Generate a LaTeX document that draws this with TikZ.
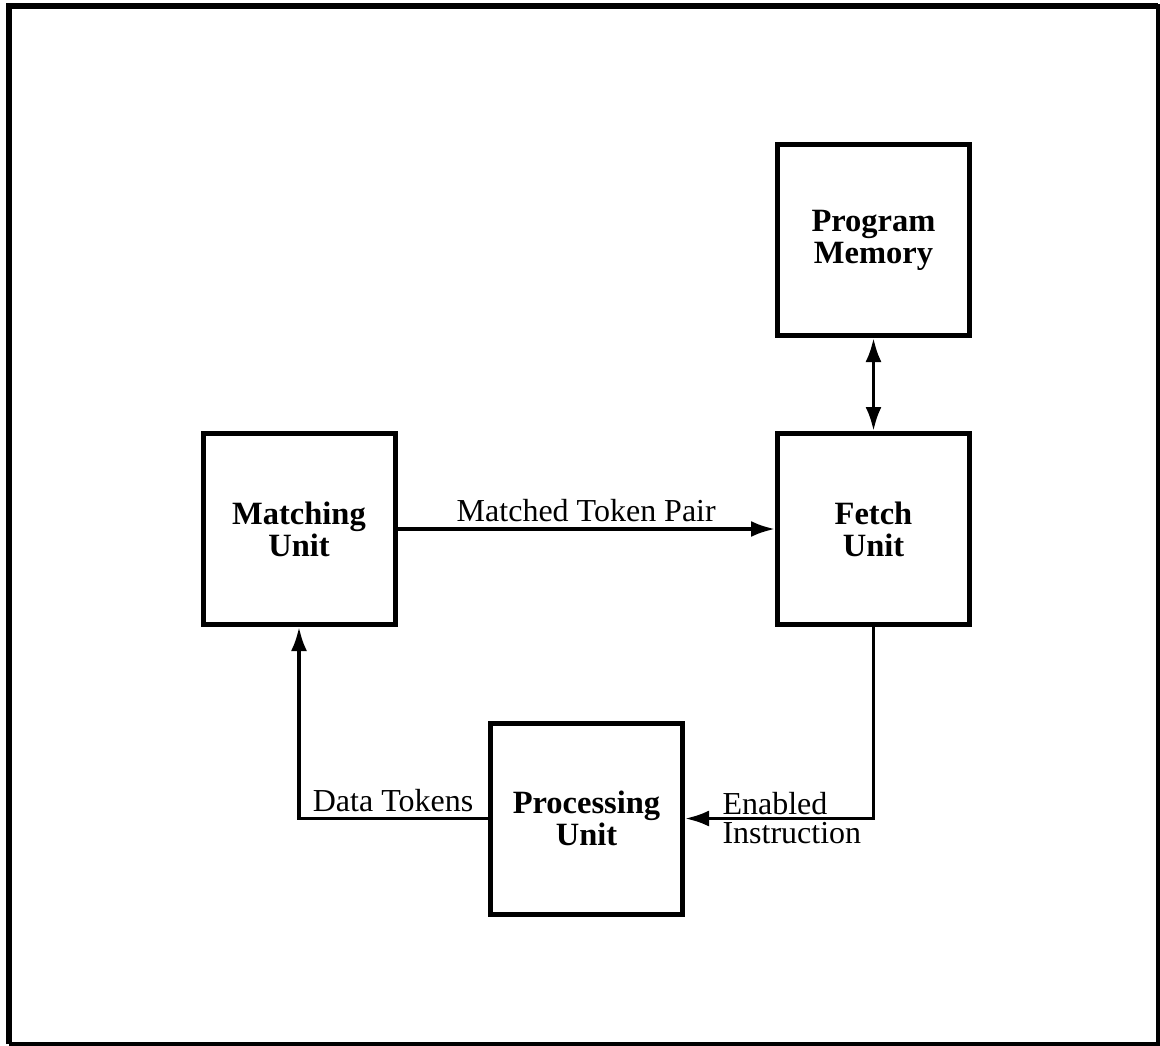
\documentclass[tikz,border=0pt]{standalone}
\usepackage{fontspec}
\setmainfont{Liberation Serif}
\usetikzlibrary{arrows.meta}
\begin{document}
\begin{tikzpicture}[x=1pt,y=-1pt,
  unitbox/.style={draw, line width=5pt, minimum width=192pt, minimum height=191pt,
    inner sep=0pt, align=center, font=\fontsize{32.5}{32}\selectfont\bfseries},
  flow/.style={line width=3.5pt, -{Latex[length=24pt,width=16pt]}},
  flowboth/.style={line width=3.5pt, {Latex[length=24pt,width=16pt]}-{Latex[length=24pt,width=16pt]}},
  lbl/.style={inner sep=0pt, font=\fontsize{32}{29}\selectfont}]
\useasboundingbox (0,0) rectangle (1160,1046);
% frame: heavy top/left, light right/bottom
\draw[line width=3.5pt] (9,6) -- (1158,6) -- (1158,1044) -- (9,1044);
\draw[line width=6pt] (9,1044) -- (9,6) -- (1158,6);

\node[unitbox] (pm)    at (873.5,240)   {Program\\Memory};
\node[unitbox] (fetch) at (873.5,529)   {Fetch\\Unit};
\node[unitbox] (match) at (299,529)     {Matching\\Unit};
\node[unitbox] (proc)  at (586.5,818.5) {Processing\\Unit};

\draw[flowboth] (pm.south) -- (fetch.north);
\draw[flow] (match.east) -- node[lbl, anchor=base, yshift=8pt] {Matched Token Pair} (fetch.west);
\draw[flow] (fetch.south) |- node[pos=0.99, lbl, anchor=north west, align=left, xshift=32pt, yshift=28pt] {Enabled\\Instruction} (proc.east);
\draw[flow] (proc.west) node[lbl, anchor=base east, xshift=-13pt, yshift=7pt] {Data Tokens} -| (match.south);
\end{tikzpicture}
\end{document}
